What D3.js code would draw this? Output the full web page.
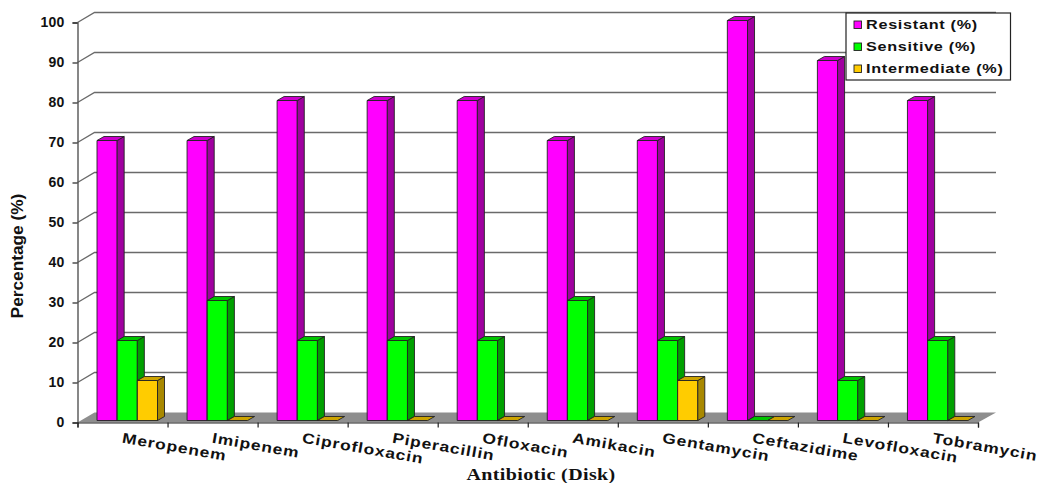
<!DOCTYPE html>
<html>
<head>
<meta charset="utf-8">
<script src="https://cdn.jsdelivr.net/npm/d3@7"></script>
<style>
html,body{margin:0;padding:0;background:#fff}
svg{display:block}
text{font-family:"Liberation Sans",Arial,sans-serif;font-weight:bold;fill:#111}
</style>
</head>
<body>
<svg id="chart" width="1042" height="483"></svg>
<script>
const categories = ["Meropenem","Imipenem","Ciprofloxacin","Piperacillin","Ofloxacin","Amikacin","Gentamycin","Ceftazidime","Levofloxacin","Tobramycin"];
const resistant = [70,70,80,80,80,70,70,100,90,80];
const sensitive = [20,30,20,20,20,30,20,0,10,20];
const intermediate = [10,0,0,0,0,0,10,0,0,0];
const seriesNames = ["Resistant (%)","Sensitive (%)","Intermediate (%)"];
const yTicks = [0,10,20,30,40,50,60,70,80,90,100];
const palette = [
  {face:"#ff00ff", side:"#a000a0", top:"#cc00cc"},
  {face:"#00ff00", side:"#00a000", top:"#00c400"},
  {face:"#ffcc00", side:"#a88800", top:"#cca300"}
];

const svg = d3.select("#chart");
const plotLeft = 77.5, plotRight = 978, plotBottom = 422.5, plotTop = 22.5;
const wallDx = 17, wallDy = -10;     // depth of the chart box
const barDx = 7, barDy = -4;         // depth of a single bar
const barLift = 2;                   // bars stand slightly behind the front edge

const y = d3.scaleLinear().domain([0,100]).range([plotBottom, plotTop]);
const xEdge = d3.scaleLinear().domain([0,categories.length]).range([plotLeft, plotRight]);
const xSeries = d3.scaleBand().domain(d3.range(3)).range([19.5, 80]);
const series = [resistant, sensitive, intermediate];
const line = d3.line();

// floor of the 3D box
svg.append("path")
  .attr("d", line([[plotLeft,plotBottom],[plotRight,plotBottom],[plotRight+wallDx+1,plotBottom+wallDy],[plotLeft+wallDx,plotBottom+wallDy]])+"Z")
  .attr("fill","#8e8e8e");

// gridlines along the left wall and the back wall
const grid = svg.append("g").attr("fill","none").attr("stroke","#6a6a6a").attr("stroke-width",1.4);
yTicks.filter(t => t > 0).forEach(t => {
  grid.append("path").attr("d", line([
    [plotLeft,y(t)],[plotLeft+wallDx,y(t)+wallDy],[plotRight+wallDx+1,y(t)+wallDy]
  ]));
});

// bars, drawn left to right so each one covers its neighbour's side face
categories.forEach((c,i) => {
  const g = svg.append("g");
  series.forEach((s,j) => {
    const x0 = xEdge(i) + xSeries(j), w = xSeries.bandwidth();
    const yb = y(0) - barLift, yt = y(s[i]) - barLift;
    const col = palette[j];
    const add = (pts, fill) => g.append("path").attr("d", line(pts)+"Z").attr("fill", fill)
      .attr("stroke","#222").attr("stroke-width",0.9).attr("stroke-linejoin","round");
    if (s[i] > 0) {
      add([[x0,yt],[x0+w,yt],[x0+w,yb],[x0,yb]], col.face);
      add([[x0+w,yt],[x0+w+barDx,yt+barDy],[x0+w+barDx,yb+barDy],[x0+w,yb]], col.side);
    }
    add([[x0,yt],[x0+barDx,yt+barDy],[x0+w+barDx,yt+barDy],[x0+w,yt]], col.top);
  });
});

// value axis
const yAxis = svg.append("g").attr("transform",`translate(${plotLeft},0)`)
  .call(d3.axisLeft(y).tickValues(yTicks).tickSize(5).tickPadding(8));
yAxis.select(".domain").attr("stroke","#555").attr("stroke-width",1.4);
yAxis.selectAll(".tick line").attr("stroke","#222").attr("stroke-width",1.2);
yAxis.selectAll("text").attr("font-size",14).attr("font-family","Liberation Sans").attr("font-weight","bold")
  .attr("fill","#111").style("letter-spacing","0.2px");

// category axis: ticks sit on the band edges, labels are slanted below them
const xAxis = svg.append("g").attr("transform",`translate(0,${plotBottom})`)
  .call(d3.axisBottom(xEdge).tickValues(d3.range(categories.length+1)).tickSize(5).tickFormat(""));
xAxis.select(".domain").attr("stroke","#222").attr("stroke-width",1.2);
xAxis.selectAll(".tick line").attr("stroke","#222").attr("stroke-width",1.2);

svg.append("g").selectAll("text").data(categories).join("text")
  .attr("transform",(d,i)=>`translate(${xEdge(i)+44},${plotBottom+20}) rotate(10) scale(1.2,1)`)
  .attr("font-size",14.5)
  .style("letter-spacing","0.75px")
  .text(d=>d);

// axis titles
svg.append("text").attr("transform","translate(23,256) rotate(-90) scale(1.08,1.08)")
  .attr("text-anchor","middle").attr("font-size",16).text("Percentage (%)");
svg.append("text").attr("transform","translate(541,480) scale(1.25,1)").attr("text-anchor","middle")
  .attr("font-size",16).style("font-family","'Liberation Serif','Times New Roman',serif")
  .style("letter-spacing","0.3px").text("Antibiotic (Disk)");

// legend
const legend = svg.append("g");
legend.append("rect").attr("x",846).attr("y",13).attr("width",164.5).attr("height",67)
  .attr("fill","#fff").attr("stroke","#222").attr("stroke-width",1.2);
const legendY = d3.scalePoint().domain(seriesNames).range([24.5,68.5]);
seriesNames.forEach((n,j) => {
  legend.append("rect").attr("x",854).attr("y",legendY(n)-3.5).attr("width",7.5).attr("height",7.5)
    .attr("fill",palette[j].face).attr("stroke","#222").attr("stroke-width",0.9);
  legend.append("text").attr("transform",`translate(866,${legendY(n)+4.5}) scale(1.2,1)`).attr("font-size",13.5)
    .style("letter-spacing","0.6px").text(n);
});
</script>
</body>
</html>
